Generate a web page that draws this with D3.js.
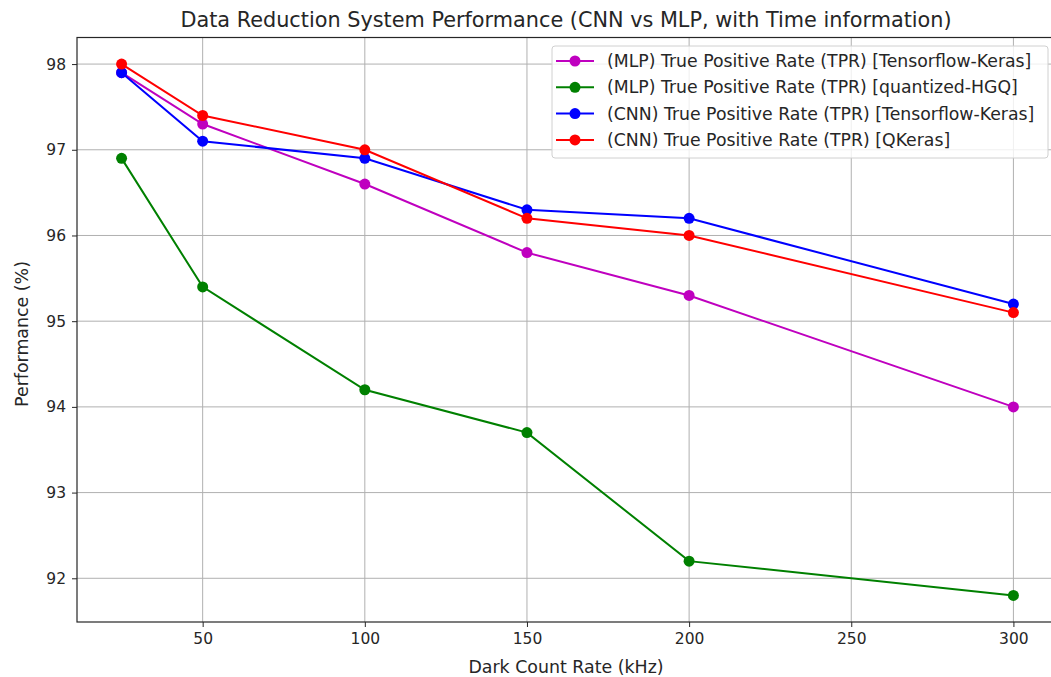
<!DOCTYPE html>
<html><head><meta charset="utf-8">
<script src="https://cdn.jsdelivr.net/npm/d3@7/dist/d3.min.js"></script>
<style>body{margin:0;background:#fff}svg{display:block}text{font-family:"DejaVu Sans",sans-serif;fill:#262626}</style>
</head><body><svg id="c" width="1051" height="677"></svg>
<script>
const xValues = [25, 50, 100, 150, 200, 300];
const mlpTF = [97.9, 97.3, 96.6, 95.8, 95.3, 94.0];
const mlpHGQ = [96.9, 95.4, 94.2, 93.7, 92.2, 91.8];
const cnnTF = [97.9, 97.1, 96.9, 96.3, 96.2, 95.2];
const cnnQK = [98.0, 97.4, 97.0, 96.2, 96.0, 95.1];
const seriesNames = ["(MLP) True Positive Rate (TPR) [Tensorflow-Keras]","(MLP) True Positive Rate (TPR) [quantized-HGQ]","(CNN) True Positive Rate (TPR) [Tensorflow-Keras]","(CNN) True Positive Rate (TPR) [QKeras]"];
const seriesColors = ["#bf00bf","#008000","#0000ff","#ff0000"];
const xTicks = [50, 100, 150, 200, 250, 300];
const yTicks = [92, 93, 94, 95, 96, 97, 98];
const title = "Data Reduction System Performance (CNN vs MLP, with Time information)";
const xLabel = "Dark Count Rate (kHz)";
const yLabel = "Performance (%)";

const series = [mlpTF, mlpHGQ, cnnTF, cnnQK].map((v,i)=>({name:seriesNames[i],color:seriesColors[i],values:v}));

const L=77, R=1058, T=37.5, B=622;
const svg = d3.select("#c");
const x = d3.scaleLinear().domain([11.25, 313.75]).range([L, R]);
const y = d3.scaleLinear().domain([91.49, 98.31]).range([B, T]);

// grid
const g = svg.append("g");
g.selectAll(".gx").data(xTicks).enter().append("line")
  .attr("x1",d=>x(d)).attr("x2",d=>x(d)).attr("y1",T).attr("y2",B)
  .attr("stroke","#b0b0b0").attr("stroke-width",1);
g.selectAll(".gy").data(yTicks).enter().append("line")
  .attr("x1",L).attr("x2",R).attr("y1",d=>y(d)).attr("y2",d=>y(d))
  .attr("stroke","#b0b0b0").attr("stroke-width",1);

// axes
const xAxis = svg.append("g").attr("transform",`translate(0,${B})`)
  .call(d3.axisBottom(x).tickValues(xTicks).tickSize(5).tickPadding(6).tickFormat(d3.format("d")));
const yAxis = svg.append("g").attr("transform",`translate(${L},0)`)
  .call(d3.axisLeft(y).tickValues(yTicks).tickSize(5).tickPadding(6).tickFormat(d3.format("d")));
[xAxis,yAxis].forEach(a=>{
  a.select(".domain").remove();
  a.selectAll("text").style("font-family","DejaVu Sans").style("font-size","15.5px").attr("fill","#262626");
  a.selectAll("line").attr("stroke","#262626");
});

// spines
svg.append("rect").attr("x",L).attr("y",T).attr("width",R-L).attr("height",B-T)
  .attr("fill","none").attr("stroke","#262626").attr("stroke-width",1.2);

// lines
const line = d3.line().x((d,i)=>x(xValues[i])).y(d=>y(d));
series.forEach(s=>{
  const sg = svg.append("g");
  sg.append("path").datum(s.values).attr("d",line).attr("fill","none")
    .attr("stroke",s.color).attr("stroke-width",2);
  sg.selectAll("circle").data(s.values).enter().append("circle")
    .attr("cx",(d,i)=>x(xValues[i])).attr("cy",d=>y(d)).attr("r",5.5).attr("fill",s.color);
});

// legend
const lg = svg.append("g");
lg.append("rect").attr("x",552).attr("y",46).attr("width",496).attr("height",112).attr("rx",3)
  .attr("fill","#fff").attr("fill-opacity",0.8).attr("stroke","#d0d0d0").attr("stroke-width",1);
series.forEach((s,i)=>{
  const yy = 61 + i*26.3;
  lg.append("line").attr("x1",556).attr("x2",594).attr("y1",yy).attr("y2",yy).attr("stroke",s.color).attr("stroke-width",2);
  lg.append("circle").attr("cx",575).attr("cy",yy).attr("r",5.5).attr("fill",s.color);
  lg.append("text").attr("x",607).attr("y",yy).attr("dy","0.35em").style("font-size","17.3px").text(s.name);
});

// title and labels
svg.append("text").attr("x",566).attr("y",27).attr("text-anchor","middle").style("font-size","20.8px").text(title);
svg.append("text").attr("x",566).attr("y",673).attr("text-anchor","middle").style("font-size","17.4px").text(xLabel);
svg.append("text").attr("transform","translate(28,334) rotate(-90)").attr("text-anchor","middle").style("font-size","17.4px").text(yLabel);
</script></body></html>
